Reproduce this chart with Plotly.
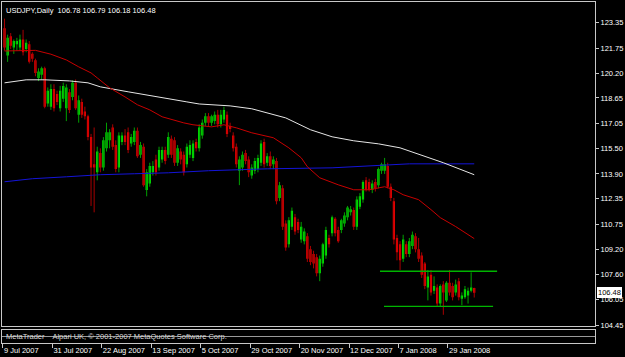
import plotly.graph_objects as go

# ---------------- data ----------------
opens = [
    123.0, 121.3, 122.5, 121.8, 122.0, 121.8, 122.3, 121.7, 122.0, 121.4,
    121.0, 119.9, 120.1, 120.5, 118.3, 118.1, 119.2, 118.9, 118.0, 118.6,
    118.0, 119.0, 118.7, 119.6, 117.6, 118.4, 117.8, 117.5, 116.2, 114.5,
    114.0, 115.2, 114.3, 115.5, 116.0, 116.8, 115.7, 114.3, 115.9, 116.3,
    116.5, 115.8, 115.9, 116.6, 115.1, 115.6, 112.9, 113.3, 114.0, 114.8,
    114.3, 114.8, 115.4, 115.1, 116.1, 116.0, 114.6, 115.3, 115.1, 114.5,
    115.1,
    114.9, 115.9, 115.5, 116.3, 117.1, 117.5, 117.1, 117.2, 117.6, 117.0,
    117.3, 117.6, 116.9, 116.3, 115.6, 114.1, 114.3, 115.2, 114.8, 113.8,
    114.1, 114.2, 114.6, 115.9, 114.6, 115.0, 114.5, 114.7, 112.4, 113.0,
    110.8,
    109.5, 110.6, 111.2, 110.9, 109.8, 109.7, 110.0, 109.2, 108.9, 108.7,
    107.7, 108.3, 108.8, 109.9, 110.2, 111.1, 110.4, 110.4, 110.8, 111.2,
    111.5, 111.65, 110.6, 111.85, 112.3, 113.5, 113.4, 112.9, 113.4, 113.2,
    114.1,
    114.1, 114.4, 113.1, 112.2, 109.9, 109.5, 108.6, 109.5, 108.9, 109.4,
    110.0, 109.2, 108.8, 108.3, 106.8, 107.6, 106.6, 106.8, 105.8, 107.0,
    106.0, 107.1, 106.9, 106.5, 107.2, 106.1, 106.2, 106.3, 106.6, 106.78,
]
highs = [
    123.6, 122.6, 122.7, 122.3, 122.4, 122.6, 122.9, 122.3, 122.2, 121.5,
    121.1, 120.5, 120.6, 120.6, 119.3, 119.5, 119.5, 119.1, 119.4, 119.6,
    119.5, 119.2, 119.75, 119.8, 118.8, 118.6, 118.1, 117.6, 116.4, 116.8,
    115.6, 115.5, 116.2, 117.1, 116.7, 117.0, 116.0, 116.5, 116.5, 116.7,
    116.8, 116.4, 116.8, 116.8, 115.9, 115.8, 114.2, 114.6, 114.7, 115.1,
    115.6, 115.6, 115.6, 116.5, 116.3, 116.2, 115.7, 115.5, 115.3, 115.8,
    116.0,
    116.0, 116.1, 117.0, 117.3, 117.7, 117.7, 117.6, 117.8, 117.9, 117.9,
    118.1, 117.8, 117.1, 116.5, 115.8, 115.0, 115.3, 115.4, 115.0, 114.5,
    114.9, 115.1, 116.0, 116.1, 115.2, 115.3, 115.0, 114.9, 113.4, 113.2,
    111.0,
    111.2, 111.8, 111.4, 111.1, 110.9, 110.5, 110.2, 109.4, 109.1, 108.9,
    108.8, 109.6, 110.6, 110.1, 111.3, 111.2, 110.6, 111.1, 111.5, 111.9,
    111.9, 111.8, 112.5, 112.7, 113.5, 113.7, 113.6, 113.5, 113.6, 114.3,
    114.6,
    114.9, 114.6, 113.3, 112.4, 110.1, 109.7, 110.1, 109.7, 109.9, 110.3,
    110.2, 109.9, 109.0, 108.4, 107.9, 107.9, 107.5, 107.0, 107.0, 107.2,
    107.2, 107.9, 107.1, 107.3, 107.4, 106.5, 106.9, 106.8, 107.75, 106.79,
]
lows = [
    121.6, 120.9, 121.7, 121.4, 121.6, 121.6, 121.3, 121.5, 120.8, 120.9,
    120.0, 119.7, 119.8, 118.0, 118.1, 117.9, 117.8, 118.2, 117.8, 118.4,
    117.2, 117.7, 118.5, 117.9, 117.1, 117.4, 117.3, 116.0, 111.9, 111.5,
    113.5, 114.0, 114.1, 115.3, 115.5, 115.4, 114.0, 114.0, 115.7, 115.7,
    115.2, 115.6, 115.7, 114.9, 114.9, 113.1, 112.5, 113.1, 113.8, 113.8,
    114.1, 114.6, 114.5, 114.9, 114.9, 114.4, 114.4, 114.5, 113.8, 114.3,
    114.9,
    114.7, 115.3, 115.3, 116.1, 116.9, 116.9, 116.9, 117.0, 116.8, 116.8,
    117.1, 116.2, 116.5, 115.3, 114.3, 113.2, 114.1, 114.5, 113.7, 113.6,
    113.9, 114.0, 114.4, 114.3, 114.4, 114.2, 114.2, 112.0, 112.2, 110.4,
    109.1,
    109.3, 110.4, 110.1, 110.2, 109.6, 109.5, 108.4, 108.2, 108.0, 107.5,
    107.2, 108.1, 108.6, 109.3, 110.0, 110.0, 109.6, 110.2, 110.6, 111.0,
    111.3, 110.4, 110.4, 111.7, 112.1, 112.8, 112.8, 112.7, 112.8, 113.0,
    113.9,
    113.9, 113.0, 112.2, 109.5, 108.5, 107.9, 108.4, 108.7, 108.7, 109.2,
    109.0, 108.4, 107.4, 106.7, 106.0, 106.3, 106.4, 105.6, 105.6, 105.1,
    105.9, 106.3, 106.0, 106.3, 106.0, 105.7, 106.1, 105.8, 106.5, 106.18,
]
closes = [
    121.8, 122.4, 121.9, 122.2, 122.2, 122.3, 121.5, 122.1, 120.9, 121.1,
    120.2, 120.3, 120.5, 118.1, 119.1, 119.2, 118.0, 118.4, 119.1, 119.4,
    119.3, 117.9, 119.6, 118.0, 118.5, 117.6, 117.5, 116.2, 114.3, 114.3,
    115.3, 114.3, 116.0, 116.5, 116.5, 115.6, 114.2, 116.3, 116.3, 115.9,
    115.4, 116.2, 116.6, 115.0, 115.7, 113.2, 114.0, 114.4, 114.4, 114.0,
    115.4, 115.4, 114.7, 116.2, 115.1, 114.6, 115.5, 114.8, 114.0, 115.6,
    115.7,
    115.8, 115.5, 116.8, 117.1, 117.5, 117.1, 117.5, 117.6, 117.0, 117.6,
    117.9, 116.4, 116.7, 115.5, 114.5, 114.8, 115.1, 114.7, 114.0, 114.3,
    114.7, 114.9, 115.8, 114.5, 115.0, 114.4, 114.8, 112.2, 113.2, 110.6,
    109.3,
    111.0, 111.6, 110.3, 110.4, 110.6, 110.3, 108.6, 108.4, 108.3, 107.7,
    108.6, 109.5, 110.4, 109.5, 111.2, 110.2, 109.7, 111.0, 111.3, 111.8,
    111.7, 110.6, 112.3, 112.5, 113.4, 112.9, 112.9, 113.3, 113.0, 114.2,
    114.5,
    114.5, 113.1, 112.4, 109.8, 109.0, 108.5, 109.8, 108.9, 109.7, 110.1,
    109.2, 108.6, 107.6, 106.9, 107.5, 106.5, 106.9, 105.8, 106.9, 106.5,
    107.1, 106.5, 106.2, 107.0, 106.2, 106.3, 106.7, 106.6, 106.8, 106.48,
]

# moving averages (bar index, value)
red_ma_bar = [0, 5, 10, 15, 20, 24, 28, 30, 34, 39, 43, 47, 51, 58, 61, 67, 71, 75,
              80, 87, 92, 96, 98, 102, 108, 113, 118, 123, 126, 129, 134, 138, 141,
              146, 152]
red_ma_val = [121.58, 121.58, 121.62, 121.38, 121.02, 120.59, 120.21, 119.90, 119.28,
              118.71, 118.22, 117.90, 117.47, 117.09, 116.97, 116.84, 116.97, 116.78,
              116.47, 116.16, 115.53, 114.91, 114.35, 113.66, 113.22, 112.91, 112.91,
              113.10, 112.91, 112.60, 112.29, 111.67, 111.17, 110.61, 109.86]
white_ma_bar = [0, 7, 13, 21, 27, 31, 40, 49, 59, 63, 73, 80, 85, 91, 99, 106, 113,
                121, 128, 131, 142, 152]
white_ma_val = [119.59, 119.78, 119.78, 119.71, 119.59, 119.34, 119.03, 118.71, 118.40,
                118.27, 118.15, 117.97, 117.72, 117.40, 116.66, 116.22, 115.97, 115.78,
                115.53, 115.34, 114.60, 113.85]
blue_ma_bar = [0, 9, 20, 31, 42, 53, 66, 85, 106, 131, 152]
blue_ma_val = [113.41, 113.60, 113.72, 113.85, 113.91, 113.97, 114.10, 114.22, 114.28,
               114.53, 114.53]

# user-drawn horizontal levels
level_price = [107.82, 105.63]
level_from_bar = [121.5, 122.8]
level_to_bar = [159.4, 158.1]

# axes
date_tick_bar = [0, 16, 32, 48, 64, 80, 96, 112, 128, 144]
date_tick_text = ["9 Jul 2007", "31 Jul 2007", "22 Aug 2007", "13 Sep 2007",
                  "5 Oct 2007", "29 Oct 2007", "20 Nov 2007", "12 Dec 2007",
                  "7 Jan 2008", "29 Jan 2008"]
price_ticks = [123.35, 121.75, 120.20, 118.65, 117.05, 115.50, 113.90, 112.35,
               110.75, 109.20, 107.60, 106.05, 104.45]

symbol = "USDJPY,Daily"
copyright_text = "MetaTrader    Alpari UK, \u00a9 2001-2007 MetaQuotes Software Corp."

# ---------------- figure ----------------
bars = list(range(len(opens)))
up_x, up_y, dn_x, dn_y = [], [], [], []
for i, o, h, l, c in zip(bars, opens, highs, lows, closes):
    if c >= o:
        up_x += [i, i, None]; up_y += [l, h, None]
    else:
        dn_x += [i, i, None]; dn_y += [l, h, None]
body_hi = [max(o, c) for o, c in zip(opens, closes)]
body_lo = [min(o, c) for o, c in zip(opens, closes)]

FONT = "Liberation Sans, Arial, sans-serif"
GRAY = "#c8c8c8"

fig = go.Figure()
fig.add_trace(go.Scatter(x=up_x, y=up_y, mode="lines", line=dict(color="#00a000", width=1),
                         hoverinfo="skip"))
fig.add_trace(go.Scatter(x=dn_x, y=dn_y, mode="lines", line=dict(color="#a80000", width=1),
                         hoverinfo="skip"))
fig.add_trace(go.Candlestick(
    x=bars, open=opens, high=body_hi, low=body_lo, close=closes,
    increasing=dict(line=dict(color="#00ff00", width=0), fillcolor="#00ff00"),
    decreasing=dict(line=dict(color="#ff0000", width=0), fillcolor="#ff0000"),
    whiskerwidth=0, hoverinfo="skip"))
fig.add_trace(go.Scatter(x=blue_ma_bar, y=blue_ma_val, mode="lines",
                         line=dict(color="#1414d8", width=1), hoverinfo="skip"))
fig.add_trace(go.Scatter(x=white_ma_bar, y=white_ma_val, mode="lines",
                         line=dict(color="#e6e6e6", width=1), hoverinfo="skip"))
fig.add_trace(go.Scatter(x=red_ma_bar, y=red_ma_val, mode="lines",
                         line=dict(color="#c80000", width=1), hoverinfo="skip"))
for p, a, b in zip(level_price, level_from_bar, level_to_bar):
    fig.add_trace(go.Scatter(x=[a, b], y=[p, p], mode="lines",
                             line=dict(color="#00b400", width=1.3), hoverinfo="skip"))
# empty sub-window
fig.add_trace(go.Scatter(x=[0], y=[0.5], xaxis="x2", yaxis="y2", mode="markers",
                         marker=dict(opacity=0), hoverinfo="skip"))

xr = [-0.82, 191.08]
fig.update_layout(
    width=625, height=357,
    margin=dict(l=2, r=30, t=2, b=14, autoexpand=False),
    paper_bgcolor="black", plot_bgcolor="black",
    showlegend=False,
    boxgap=0.28, boxgroupgap=0,
    font=dict(family=FONT, size=7.5, color="white"),
    xaxis=dict(domain=[0, 1], range=xr, anchor="y", showticklabels=False, ticks="",
               showgrid=False, zeroline=False, showline=True, mirror=True,
               linecolor=GRAY, linewidth=1, rangeslider=dict(visible=False),
               fixedrange=True, automargin=False),
    xaxis2=dict(domain=[0, 1], range=xr, anchor="y2", matches="x",
                tickmode="array", tickvals=[t - 0.5 for t in date_tick_bar],
                ticktext=date_tick_text, ticks="outside", ticklen=4, tickwidth=1,
                tickcolor=GRAY, ticklabelposition="outside right", tickangle=0,
                tickfont=dict(family=FONT, size=7.5, color="white"),
                showgrid=False, zeroline=False, showline=True, mirror=True,
                linecolor=GRAY, linewidth=1, fixedrange=True, automargin=False),
    yaxis=dict(domain=[17 / 341, 1], range=[104.40, 124.64], anchor="x", side="right",
               tickmode="array", tickvals=price_ticks,
               ticktext=[f"{v:.2f}" for v in price_ticks],
               ticks="outside", ticklen=3, tickwidth=1, tickcolor=GRAY,
               tickfont=dict(family=FONT, size=7.5, color="white"),
               showgrid=False, zeroline=False, showline=True, mirror=True,
               linecolor=GRAY, linewidth=1, fixedrange=True, automargin=False),
    yaxis2=dict(domain=[0, 13 / 341], range=[0, 1], anchor="x2", showticklabels=False,
                ticks="", showgrid=False, zeroline=False, showline=True, mirror=True,
                linecolor=GRAY, linewidth=1, fixedrange=True, automargin=False),
)

fig.add_shape(type="line", xref="paper", x0=0, x1=1, yref="y2 domain", y0=0.5, y1=0.5,
              line=dict(color="#9a9a9a", width=1), layer="below")

title = f"{symbol}  {opens[-1]:.2f} {highs[-1]:.2f} {lows[-1]:.2f} {closes[-1]:.2f}"
fig.add_annotation(text=title, xref="paper", yref="paper", x=0, y=1, xanchor="left",
                   yanchor="top", xshift=2, yshift=-2, showarrow=False,
                   font=dict(family=FONT, size=7.5, color="white"))
fig.add_annotation(text=f"{closes[-1]:.2f}", xref="paper", yref="y", x=1, y=closes[-1],
                   xanchor="left", yanchor="middle", xshift=2, showarrow=False,
                   bgcolor="white", borderpad=0, bordercolor="white", borderwidth=1,
                   font=dict(family=FONT, size=7.5, color="black"))
fig.add_annotation(text=copyright_text, xref="paper", yref="y2 domain", x=0, y=0.5,
                   xanchor="left", yanchor="middle", xshift=2, showarrow=False,
                   font=dict(family=FONT, size=7.5, color="#d8d8d8"))

fig.write_html("out.html", config={"displayModeBar": False})
